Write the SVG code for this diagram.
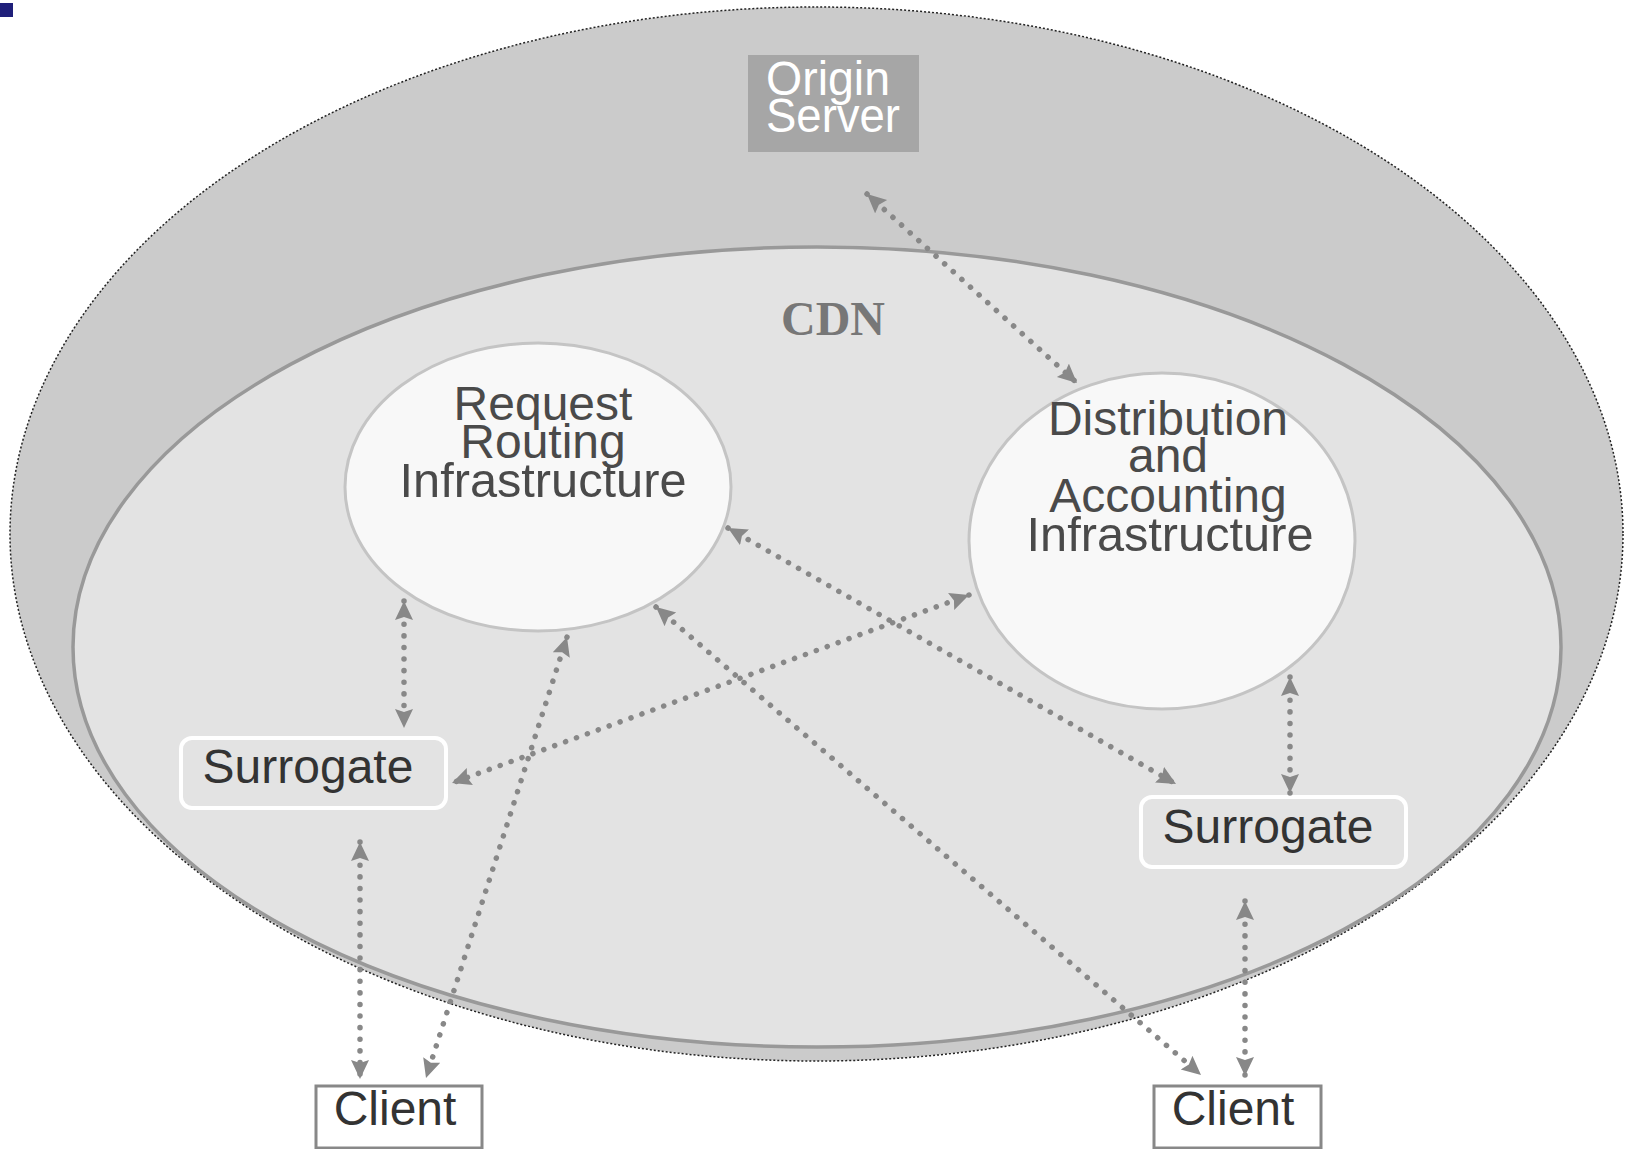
<svg xmlns="http://www.w3.org/2000/svg" width="1630" height="1149" viewBox="0 0 1630 1149">
<style>
.lbl{font-family:"Liberation Sans",Arial,sans-serif;font-size:48px;text-anchor:middle}
.dark{fill:#4a4a4a}
.box{fill:#333333}
.con{fill:none;stroke:#888888;stroke-width:5.5;stroke-linecap:round;stroke-dasharray:0.1 11.5;marker-start:url(#ah);marker-end:url(#ah)}
.inf{fill:#f8f8f8;stroke:#c4c4c4;stroke-width:3}
.sur{fill:#e3e3e3;stroke:#ffffff;stroke-width:4}
.cli{fill:#ffffff;stroke:#888888;stroke-width:3}
</style>
<defs>
<marker id="ah" markerUnits="userSpaceOnUse" markerWidth="22" markerHeight="20" refX="19" refY="9" orient="auto-start-reverse" viewBox="0 0 22 20">
<path d="M0,0 L19,9 L0,18 L3,9 z" fill="#888888"/>
</marker>
</defs>
<rect width="1630" height="1149" fill="#ffffff"/>
<rect id="corner-mark" x="0" y="3" width="13" height="14" fill="#1f1f7a"/>
<g id="outer-region">
<ellipse cx="816.5" cy="534" rx="806.5" ry="527" fill="#cbcbcb" stroke="#222222" stroke-width="1.5" stroke-dasharray="2 2"/>
</g>
<g id="origin-server">
<rect x="748" y="55" width="171" height="97" fill="#a6a6a6"/>
<text class="lbl" x="828" y="95" fill="#ffffff" textLength="124" lengthAdjust="spacingAndGlyphs">Origin</text>
<text class="lbl" x="833" y="132" fill="#ffffff" textLength="134" lengthAdjust="spacingAndGlyphs">Server</text>
</g>
<g id="cdn">
<ellipse cx="817" cy="647" rx="744" ry="400" fill="#e3e3e3" stroke="#999999" stroke-width="3.5"/>
<text x="833" y="335" font-family="'Liberation Serif','Times New Roman',serif" font-weight="bold" font-size="48" fill="#777777" text-anchor="middle">CDN</text>
</g>
<g id="request-routing">
<ellipse class="inf" cx="538" cy="487" rx="193" ry="144"/>
<text class="lbl dark" x="543" y="420">Request</text>
<text class="lbl dark" x="543" y="458">Routing</text>
<text class="lbl dark" x="543" y="497" textLength="287" lengthAdjust="spacingAndGlyphs">Infrastructure</text>
</g>
<g id="distribution-accounting">
<ellipse class="inf" cx="1162" cy="541" rx="193" ry="168"/>
<text class="lbl dark" x="1168" y="435">Distribution</text>
<text class="lbl dark" x="1168" y="472">and</text>
<text class="lbl dark" x="1168" y="512">Accounting</text>
<text class="lbl dark" x="1170" y="551" textLength="287" lengthAdjust="spacingAndGlyphs">Infrastructure</text>
</g>
<g id="surrogate-left">
<rect class="sur" x="181" y="738" width="265" height="70" rx="11"/>
<text class="lbl box" x="308" y="783">Surrogate</text>
</g>
<g id="surrogate-right">
<rect class="sur" x="1141" y="797" width="265" height="70" rx="11"/>
<text class="lbl box" x="1268" y="843">Surrogate</text>
</g>
<g id="client-left">
<rect class="cli" x="316" y="1086" width="166" height="62"/>
<text class="lbl box" x="395" y="1125">Client</text>
</g>
<g id="client-right">
<rect class="cli" x="1154" y="1086" width="167" height="62"/>
<text class="lbl box" x="1233" y="1125">Client</text>
</g>
<g id="connectors">
<line class="con" x1="867" y1="194" x2="1077" y2="383"/>
<line class="con" x1="404" y1="601" x2="404" y2="728"/>
<line class="con" x1="567" y1="637" x2="426" y2="1078"/>
<line class="con" x1="656" y1="607" x2="1201" y2="1075"/>
<line class="con" x1="728" y1="528" x2="1176" y2="784"/>
<line class="con" x1="969" y1="595" x2="452" y2="783"/>
<line class="con" x1="1290" y1="677" x2="1290" y2="793"/>
<line class="con" x1="360" y1="842" x2="360" y2="1079"/>
<line class="con" x1="1245" y1="901" x2="1245" y2="1076"/>
</g>
</svg>
